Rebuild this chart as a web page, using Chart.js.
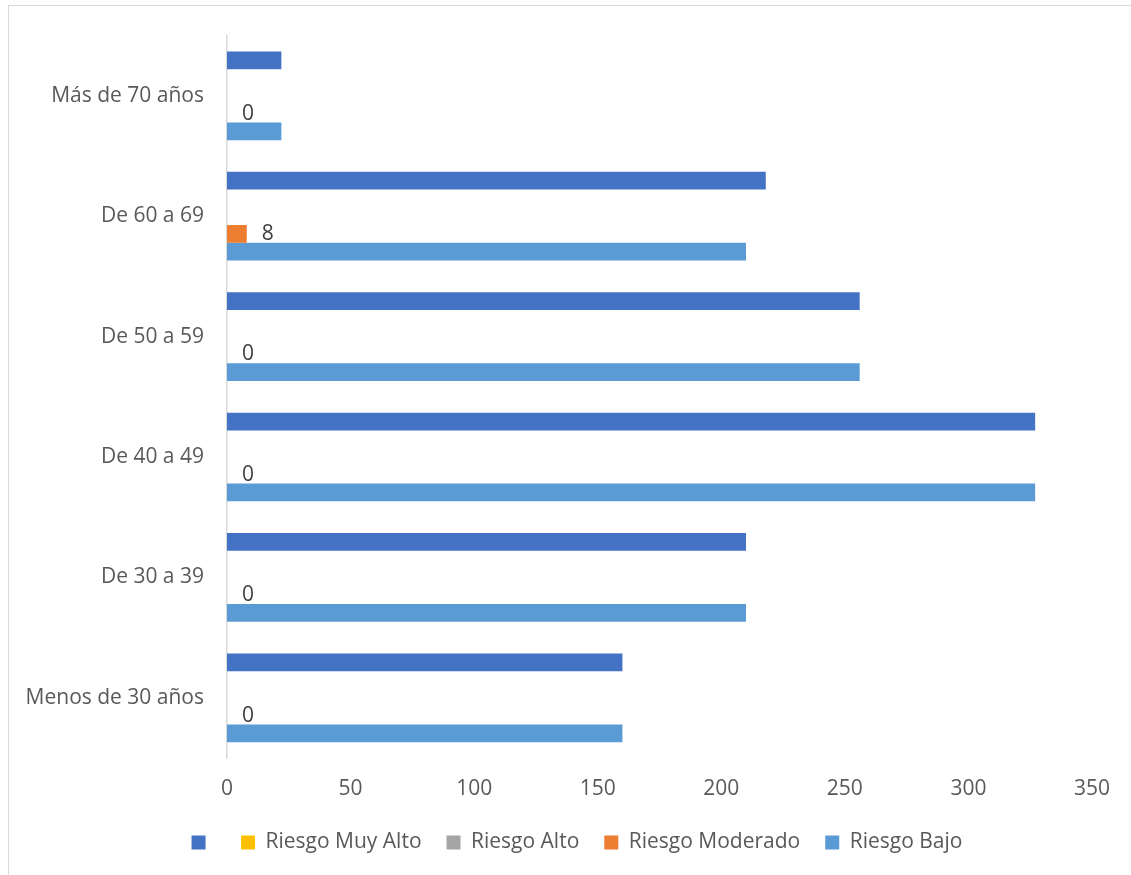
<!DOCTYPE html>
<html>
<head>
<meta charset="utf-8">
<script src="https://cdn.jsdelivr.net/npm/chart.js@4/dist/chart.umd.min.js"></script>
<style>
  body { margin: 0; background: #fff; }
  #wrap { position: relative; width: 1131px; height: 875px; overflow: hidden; }
  #frame { position: absolute; left: 8px; top: 5px; width: 1200px; height: 1000px;
           border-left: 1px solid #d9d9d9; border-top: 1px solid #d9d9d9; }
  canvas { position: absolute; left: 0; top: 0; }
</style>
</head>
<body>
<div id="wrap">
  <div id="frame"></div>
  <canvas id="chart" width="1131" height="875"></canvas>
</div>
<script>
// categories, top to bottom as drawn
const ageGroups = ["Más de 70 años", "De 60 a 69", "De 50 a 59", "De 40 a 49", "De 30 a 39", "Menos de 30 años"];

// series values per age group
const totals = [22, 218, 256, 327, 210, 160];
const muyAlto = [0, 0, 0, 0, 0, 0];
const alto = [0, 0, 0, 0, 0, 0];
const moderado = [0, 8, 0, 0, 0, 0];
const bajo = [22, 210, 256, 327, 210, 160];

const xTicks = [0, 50, 100, 150, 200, 250, 300, 350];

const FONT = "'Open Sans', sans-serif";

// draws the value labels next to the Riesgo Moderado bars
const moderadoLabels = {
  id: "moderadoLabels",
  afterDatasetsDraw(chart) {
    const ctx = chart.ctx;
    const meta = chart.getDatasetMeta(3);
    ctx.save();
    ctx.font = "21px " + FONT;
    ctx.fillStyle = "#404040";
    ctx.textAlign = "left";
    ctx.textBaseline = "middle";
    meta.data.forEach((bar, i) => {
      ctx.fillText(String(moderado[i]), bar.x + 15, bar.y);
    });
    ctx.restore();
  }
};

// nudge the legend row so it sits where the original has it
const legendShift = {
  id: "legendShift",
  beforeDraw(chart) {
    const lg = chart.legend;
    if (lg) {
      lg.left += 31;
      lg.right += 31;
      lg.top -= 12;
      lg.bottom -= 12;
    }
  }
};

new Chart(document.getElementById("chart").getContext("2d"), {
  type: "bar",
  data: {
    labels: ageGroups,
    datasets: [
      { label: "", data: totals, backgroundColor: "#4472C4" },
      { label: "Riesgo Muy Alto", data: muyAlto, backgroundColor: "#FFC000" },
      { label: "Riesgo Alto", data: alto, backgroundColor: "#A5A5A5" },
      { label: "Riesgo Moderado", data: moderado, backgroundColor: "#ED7D31" },
      { label: "Riesgo Bajo", data: bajo, backgroundColor: "#5B9BD5" },
    ],
  },
  options: {
    indexAxis: "y",
    responsive: false,
    animation: false,
    categoryPercentage: 0.737,
    barPercentage: 1,
    layout: { padding: { top: 34, right: 39, left: 0, bottom: 0 } },
    scales: {
      x: {
        min: 0,
        max: 350,
        afterBuildTicks: (scale) => { scale.ticks = xTicks.map(v => ({ value: v })); },
        afterFit: (scale) => { scale.height = 61; },
        grid: { display: false, drawTicks: false },
        border: { display: false },
        ticks: { padding: 18, color: "#595959", font: { family: FONT, size: 21 } },
      },
      y: {
        afterFit: (scale) => { scale.width = 227; },
        grid: { display: false, drawTicks: false },
        border: { display: true, color: "#d9d9d9", width: 1.5 },
        ticks: { padding: 23, color: "#595959", font: { family: FONT, size: 21 } },
      },
    },
    plugins: {
      legend: {
        position: "bottom",
        labels: {
          boxWidth: 14,
          boxHeight: 14,
          padding: 25,
          color: "#595959",
          font: { family: FONT, size: 21 },
        },
      },
      tooltip: { enabled: false },
    },
  },
  plugins: [moderadoLabels, legendShift],
});
</script>
</body>
</html>
